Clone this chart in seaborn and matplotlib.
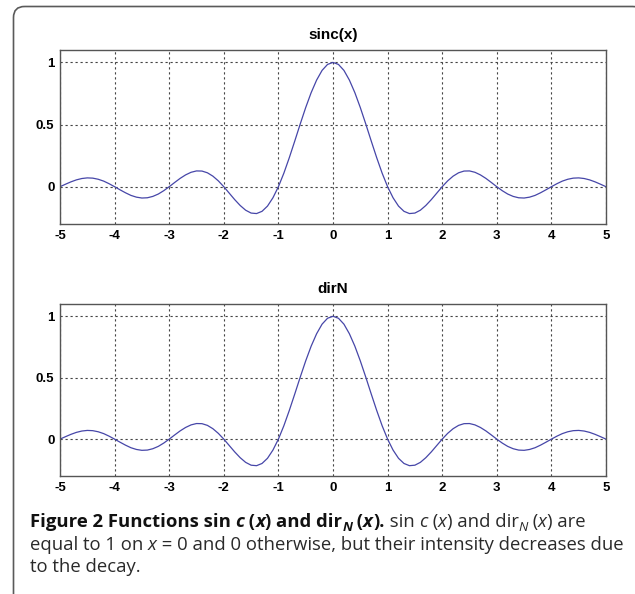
import numpy as np
import pandas as pd
import matplotlib
matplotlib.use("Agg")
import matplotlib.pyplot as plt
import seaborn as sns
from matplotlib.patches import FancyBboxPatch

# ---------------- data ----------------
x_vals = [-5.0, -4.9, -4.8, -4.7, -4.6, -4.5, -4.4, -4.3, -4.2, -4.1,
          -4.0, -3.9, -3.8, -3.7, -3.6, -3.5, -3.4, -3.3, -3.2, -3.1,
          -3.0, -2.9, -2.8, -2.7, -2.6, -2.5, -2.4, -2.3, -2.2, -2.1,
          -2.0, -1.9, -1.8, -1.7, -1.6, -1.5, -1.4, -1.3, -1.2, -1.1,
          -1.0, -0.9, -0.8, -0.7, -0.6, -0.5, -0.4, -0.3, -0.2, -0.1,
          0.0, 0.1, 0.2, 0.3, 0.4, 0.5, 0.6, 0.7, 0.8, 0.9,
          1.0, 1.1, 1.2, 1.3, 1.4, 1.5, 1.6, 1.7, 1.8, 1.9,
          2.0, 2.1, 2.2, 2.3, 2.4, 2.5, 2.6, 2.7, 2.8, 2.9,
          3.0, 3.1, 3.2, 3.3, 3.4, 3.5, 3.6, 3.7, 3.8, 3.9,
          4.0, 4.1, 4.2, 4.3, 4.4, 4.5, 4.6, 4.7, 4.8, 4.9, 5.0]

sinc_vals = [0.0, 0.020, 0.039, 0.055, 0.066, 0.071, 0.069, 0.060, 0.045, 0.024,
             0.0, -0.025, -0.049, -0.070, -0.084, -0.091, -0.089, -0.078, -0.059, -0.032,
             0.0, 0.034, 0.067, 0.095, 0.116, 0.127, 0.126, 0.112, 0.085, 0.047,
             0.0, -0.052, -0.104, -0.151, -0.189, -0.212, -0.216, -0.198, -0.156, -0.089,
             0.0, 0.109, 0.234, 0.368, 0.505, 0.637, 0.757, 0.858, 0.936, 0.984,
             1.0, 0.984, 0.936, 0.858, 0.757, 0.637, 0.505, 0.368, 0.234, 0.109,
             0.0, -0.089, -0.156, -0.198, -0.216, -0.212, -0.189, -0.151, -0.104, -0.052,
             0.0, 0.047, 0.085, 0.112, 0.126, 0.127, 0.116, 0.095, 0.067, 0.034,
             0.0, -0.032, -0.059, -0.078, -0.089, -0.091, -0.084, -0.070, -0.049, -0.025,
             0.0, 0.024, 0.045, 0.060, 0.069, 0.071, 0.066, 0.055, 0.039, 0.020, 0.0]

dirn_vals = [0.0, 0.020, 0.039, 0.055, 0.066, 0.071, 0.069, 0.060, 0.045, 0.024,
             0.0, -0.025, -0.049, -0.070, -0.084, -0.091, -0.089, -0.078, -0.059, -0.032,
             0.0, 0.034, 0.067, 0.095, 0.116, 0.127, 0.126, 0.112, 0.085, 0.047,
             0.0, -0.052, -0.104, -0.151, -0.189, -0.212, -0.216, -0.198, -0.156, -0.089,
             0.0, 0.109, 0.234, 0.368, 0.505, 0.637, 0.757, 0.858, 0.936, 0.984,
             1.0, 0.984, 0.936, 0.858, 0.757, 0.637, 0.505, 0.368, 0.234, 0.109,
             0.0, -0.089, -0.156, -0.198, -0.216, -0.212, -0.189, -0.151, -0.104, -0.052,
             0.0, 0.047, 0.085, 0.112, 0.126, 0.127, 0.116, 0.095, 0.067, 0.034,
             0.0, -0.032, -0.059, -0.078, -0.089, -0.091, -0.084, -0.070, -0.049, -0.025,
             0.0, 0.024, 0.045, 0.060, 0.069, 0.071, 0.066, 0.055, 0.039, 0.020, 0.0]

titles = ["sinc(x)", "dirN"]
x_ticks = [-5, -4, -3, -2, -1, 0, 1, 2, 3, 4, 5]
y_ticks = [0, 0.5, 1]
y_tick_labels = ["0", "0.5", "1"]

# ---------------- figure ----------------
sns.set_theme(style="white")
plt.rcParams["font.family"] = ["Liberation Sans", "DejaVu Sans"]

W, H = 635, 594
fig = plt.figure(figsize=(W / 100, H / 100), dpi=100)
fig.patch.set_facecolor("white")

def px_rect(left, top, right, bottom):
    return [left / W, 1 - bottom / H, (right - left) / W, (bottom - top) / H]

# frame overlay axes (pixel coords)
bg = fig.add_axes([0, 0, 1, 1], zorder=0)
bg.set_xlim(0, W)
bg.set_ylim(H, 0)
bg.axis("off")
bg.add_patch(FancyBboxPatch((13.5, 6.5), 630, 700,
                            boxstyle="round,pad=0,rounding_size=11",
                            fc="none", ec="#5a5a5a", lw=1.2))

series = [sinc_vals, dirn_vals]
rects = [px_rect(60, 50, 606, 224), px_rect(60, 304, 606, 476)]

for vals, title, rect in zip(series, titles, rects):
    ax = fig.add_axes(rect, zorder=2)
    df = pd.DataFrame({"x": x_vals, "y": vals})
    sns.lineplot(data=df, x="x", y="y", ax=ax, color="#4646a8", lw=0.9)
    ax.set_xlim(-5, 5)
    ax.set_ylim(-0.3, 1.1)
    ax.set_xticks(x_ticks)
    ax.set_xticklabels([str(t) for t in x_ticks])
    ax.set_yticks(y_ticks)
    ax.set_yticklabels(y_tick_labels)
    ax.set_xlabel("")
    ax.set_ylabel("")
    ax.grid(True, linestyle=(0, (2, 2.5)), color="#444444", lw=0.8)
    ax.tick_params(axis="both", direction="in", length=3, width=0.8,
                   color="#555555", labelsize=9.5, pad=4)
    for lab in ax.get_xticklabels() + ax.get_yticklabels():
        lab.set_fontweight("bold")
        lab.set_color("black")
        lab.set_family(["Liberation Sans", "DejaVu Sans"])
    for sp in ax.spines.values():
        sp.set_visible(True)
        sp.set_color("#555555")
        sp.set_linewidth(1.0)
    ax.set_title(title, fontsize=11, fontweight="bold", pad=8,
                 family=["Liberation Sans", "DejaVu Sans"], color="black")
    ax.set_facecolor("white")

# ---------------- caption ----------------
cap_fam = ["Open Sans", "DejaVu Sans"]
cap_size = 13.3
renderer = fig.canvas.get_renderer()

def draw_line(pieces, x0, y0):
    x = x0
    for txt, weight, style, sub in pieces:
        size = cap_size * (0.72 if sub else 1.0)
        yy = y0 + (3.8 if sub else 0)
        t = bg.text(x, yy, txt, fontsize=size, fontweight=weight, fontstyle=style,
                    family=cap_fam, color="#111111" if weight == "bold" else "#2a2a2a",
                    ha="left", va="baseline")
        bb = t.get_window_extent(renderer=renderer)
        x += bb.width

B, R = "bold", "normal"
line1 = [("Figure 2 Functions sin ", B, "normal", False),
         ("c", B, "italic", False),
         (" (", B, "normal", False),
         ("x", B, "italic", False),
         (") and dir", B, "normal", False),
         ("N", B, "italic", True),
         (" (", B, "normal", False),
         ("x", B, "italic", False),
         (").", B, "normal", False),
         (" sin ", R, "normal", False),
         ("c", R, "italic", False),
         (" (", R, "normal", False),
         ("x", R, "italic", False),
         (") and dir", R, "normal", False),
         ("N", R, "italic", True),
         (" (", R, "normal", False),
         ("x", R, "italic", False),
         (") are", R, "normal", False)]
line2 = [("equal to 1 on ", R, "normal", False),
         ("x", R, "italic", False),
         (" = 0 and 0 otherwise, but their intensity decreases due", R, "normal", False)]
line3 = [("to the decay.", R, "normal", False)]

draw_line(line1, 30, 527)
draw_line(line2, 30, 549.5)
draw_line(line3, 30, 572)

fig.savefig("out.png", dpi=100)
